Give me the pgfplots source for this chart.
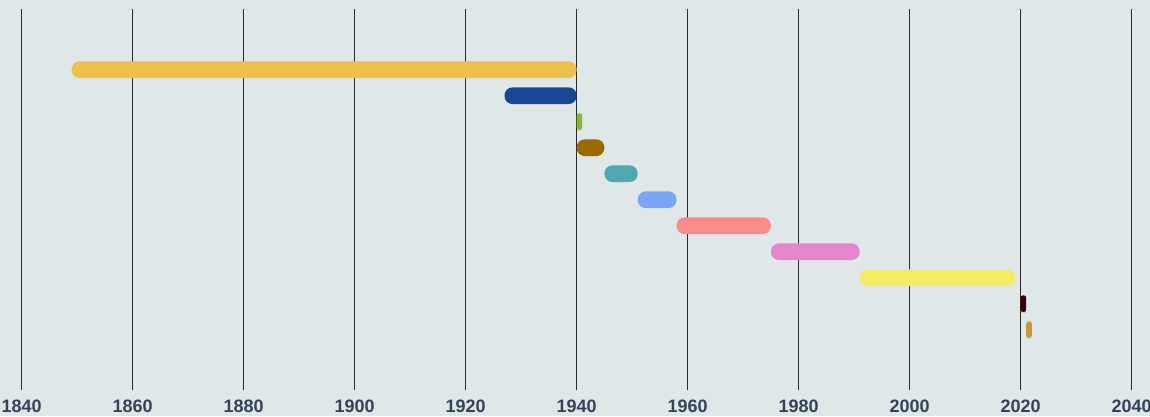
\documentclass[border=0pt]{standalone}
\usepackage{pgfplots}
\pgfplotsset{compat=1.18}
\usepackage{fontspec}
\setmainfont{Liberation Sans}
\definecolor{bg}{HTML}{DFE7E9}
\definecolor{gridc}{HTML}{2A2A2A}
\definecolor{labc}{HTML}{36425A}
\definecolor{c1}{HTML}{EEBF4A}
\definecolor{c2}{HTML}{1B4696}
\definecolor{c3}{HTML}{8AB82F}
\definecolor{c4}{HTML}{9A6A00}
\definecolor{c5}{HTML}{4FA8AF}
\definecolor{c6}{HTML}{7BA6F7}
\definecolor{c7}{HTML}{F98B88}
\definecolor{c8}{HTML}{E585CB}
\definecolor{c9}{HTML}{F4EC67}
\definecolor{c10}{HTML}{3B0005}
\definecolor{c11}{HTML}{C69A38}
\begin{document}
\begin{tikzpicture}
\path[use as bounding box] (0,0) rectangle (1150pt,416pt);
\fill[bg] (0,0) rectangle (1150pt,416pt);
\begin{axis}[
  at={(0pt,26pt)}, anchor=south west,
  scale only axis, width=1150pt, height=381pt,
  xmin=1836.1, xmax=2043.3, ymin=26, ymax=407,
  axis line style={draw=none},
  major tick length=0pt,
  xtick={1840,1860,...,2040},
  ytick=\empty,
  xmajorgrids,
  grid style={gridc, line width=1pt},
  /pgf/number format/1000 sep={},
  /pgf/number format/assume math mode=true,
  xticklabel style={font=\fontsize{18}{20}\selectfont\bfseries, text=labc, anchor=base, yshift=-22.5pt},
  clip=false,
]
% row centers (y) : 346.3 - 26*(i-1), half height 8.35
\addplot[draw=none, fill=c1, rounded corners=8pt] coordinates {(1895,337.95) (1940,337.95) (1940,354.65) (1849,354.65) (1849,337.95)} -- cycle;
\addplot[draw=none, fill=c2, rounded corners=8pt] coordinates {(1933,311.95) (1940,311.95) (1940,328.65) (1927,328.65) (1927,311.95)} -- cycle;
\addplot[draw=none, fill=c3, rounded corners=2.4pt] coordinates {(1940.5,285.95) (1941,285.95) (1941,302.65) (1940,302.65) (1940,285.95)} -- cycle;
\addplot[draw=none, fill=c4, rounded corners=8pt] coordinates {(1942.5,259.95) (1945,259.95) (1945,276.65) (1940,276.65) (1940,259.95)} -- cycle;
\addplot[draw=none, fill=c5, rounded corners=8pt] coordinates {(1948,233.95) (1951,233.95) (1951,250.65) (1945,250.65) (1945,233.95)} -- cycle;
\addplot[draw=none, fill=c6, rounded corners=8pt] coordinates {(1954.5,207.95) (1958,207.95) (1958,224.65) (1951,224.65) (1951,207.95)} -- cycle;
\addplot[draw=none, fill=c7, rounded corners=8pt] coordinates {(1966.5,181.95) (1975,181.95) (1975,198.65) (1958,198.65) (1958,181.95)} -- cycle;
\addplot[draw=none, fill=c8, rounded corners=8pt] coordinates {(1983,155.95) (1991,155.95) (1991,172.65) (1975,172.65) (1975,155.95)} -- cycle;
\addplot[draw=none, fill=c9, rounded corners=8pt] coordinates {(2005,129.95) (2019,129.95) (2019,146.65) (1991,146.65) (1991,129.95)} -- cycle;
\addplot[draw=none, fill=c10, rounded corners=2.4pt] coordinates {(2020.5,103.95) (2021,103.95) (2021,120.65) (2020,120.65) (2020,103.95)} -- cycle;
\addplot[draw=none, fill=c11, rounded corners=2.4pt] coordinates {(2021.5,77.95) (2022,77.95) (2022,94.65) (2021,94.65) (2021,77.95)} -- cycle;
\end{axis}
\end{tikzpicture}
\end{document}
